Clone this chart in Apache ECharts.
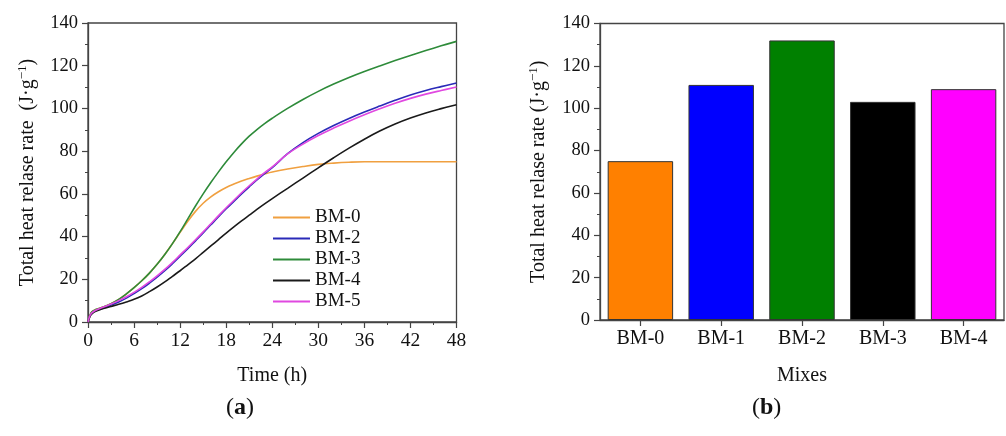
<!DOCTYPE html>
<html>
<head>
<meta charset="utf-8">
<script src="https://cdn.jsdelivr.net/npm/echarts@6/dist/echarts.min.js"></script>
<style>
html,body{margin:0;padding:0;background:#fff;}
#c{width:1006px;height:436px;}
</style>
</head>
<body>
<div id="c"></div>
<script>
// ---- Data (a): cumulative heat vs time ----
var timeH = [0, 0.25, 0.5, 1, 2, 3, 4, 5, 6, 7, 8, 9, 10, 11, 12, 13, 14, 15, 16, 17, 18, 19, 20, 21, 22, 23, 24, 26, 28, 30, 32, 34, 36, 38, 40, 42, 44, 46, 48];
var bm0 = [0, 3, 4.8, 5.8, 7, 8.6, 10.6, 13.2, 16.1, 19.3, 22.9, 27, 31.6, 36.7, 42, 47.2, 51.8, 55.6, 58.6, 61, 63, 64.6, 66, 67.2, 68.3, 69.3, 70.2, 71.6, 72.8, 73.8, 74.4, 74.8, 75, 75, 75, 75, 75, 75, 75];
var bm2 = [0, 2.8, 4, 5.2, 6.6, 7.9, 9.4, 11.2, 13.3, 15.6, 18.2, 21, 24, 27.3, 30.8, 34.3, 38, 41.7, 45.5, 49.3, 53, 56.5, 60, 63.3, 66.5, 69.5, 72.3, 78.8, 84, 88.3, 92, 95.3, 98.3, 101.1, 103.8, 106.3, 108.4, 110.2, 111.9];
var bm3 = [0, 3, 4.8, 5.8, 7, 8.6, 10.6, 13.2, 16.1, 19.3, 22.9, 27, 31.6, 36.7, 42.3, 48.3, 54.3, 60, 65.3, 70.3, 75, 79.4, 83.4, 87, 90.1, 92.9, 95.4, 100, 104.2, 108, 111.4, 114.5, 117.3, 119.9, 122.4, 124.8, 127.1, 129.3, 131.4];
var bm4 = [0, 2.5, 3.8, 5, 6.3, 7.3, 8.3, 9.4, 10.6, 12.2, 14.2, 16.4, 18.8, 21.4, 24, 26.8, 29.6, 32.6, 35.6, 38.6, 41.6, 44.5, 47.3, 50, 52.7, 55.3, 57.8, 62.6, 67.4, 72.2, 76.9, 81.4, 85.6, 89.4, 92.7, 95.5, 97.9, 99.9, 101.7];
var bm5 = [0, 3, 4.3, 5.5, 7, 8.4, 10, 11.8, 13.9, 16.2, 18.8, 21.6, 24.6, 27.9, 31.4, 34.9, 38.5, 42.2, 46, 49.8, 53.5, 57, 60.5, 63.8, 66.9, 69.9, 72.6, 78.7, 83.3, 87.3, 90.8, 94, 97, 99.8, 102.4, 104.7, 106.7, 108.4, 110];
var lineNames = ['BM-0', 'BM-2', 'BM-3', 'BM-4', 'BM-5'];
var lineColors = ['#F0A040', '#2A2AB8', '#2E8B3A', '#1A1A1A', '#E048E0'];
var lineValues = [bm0, bm2, bm3, bm4, bm5];

// ---- Data (b): total heat per mix ----
var mixes = ['BM-0', 'BM-1', 'BM-2', 'BM-3', 'BM-4'];
var mixTotals = [75, 111, 132, 103, 109];
var barColors = ['#FF8000', '#0000FF', '#008000', '#000000', '#FF00FF'];

// ---- Tick labels ----
var yTicks = [0, 20, 40, 60, 80, 100, 120, 140];
var xTicks = [0, 6, 12, 18, 24, 30, 36, 42, 48];

var FONT = 'Liberation Serif';
var AX = '#444';
var yName = 'Total heat relase rate  (J·g{sup|−1})';
var yName2 = 'Total heat relase rate (J·g{sup|−1})';
var nameRich = { sup: { fontSize: 13, fontFamily: FONT, color: '#111', verticalAlign: 'top', padding: [0, 0, 10, 0] } };

function pairs(t, v) { return t.map(function (x, i) { return [x, v[i]]; }); }

var series = lineValues.map(function (vals, i) {
  return {
    name: lineNames[i], type: 'line', xAxisIndex: 0, yAxisIndex: 0,
    data: pairs(timeH, vals), smooth: 0.4, symbol: 'none',
    lineStyle: { color: lineColors[i], width: 1.6 }, itemStyle: { color: lineColors[i] }
  };
});
series.push({
  type: 'bar', xAxisIndex: 1, yAxisIndex: 1, barCategoryGap: '19%',
  data: mixTotals.map(function (v, i) {
    return { value: v, itemStyle: { color: barColors[i] } };
  }),
  itemStyle: { borderColor: '#333', borderWidth: 1 }
});

function valueAxisCommon() {
  return {
    axisLine: { show: true, lineStyle: { color: AX, width: 1.3 } },
    axisTick: { show: true, inside: false, length: 6, lineStyle: { color: AX, width: 1.2 } },
    minorTick: { show: true, splitNumber: 2, length: 3, lineStyle: { color: AX, width: 1 } },
    splitLine: { show: false },
    axisLabel: { color: '#111', fontFamily: FONT, fontSize: 18.5, margin: 9 },
    nameTextStyle: { color: '#111', fontFamily: FONT, fontSize: 20, rich: nameRich }
  };
}

var xa0 = Object.assign(valueAxisCommon(), {
  type: 'value', gridIndex: 0, min: xTicks[0], max: xTicks[xTicks.length - 1], interval: 6,
  name: 'Time (h)', nameLocation: 'middle', nameGap: 44
});
xa0.axisLabel = Object.assign({}, xa0.axisLabel, { fontSize: 19.5 });
var ya0 = Object.assign(valueAxisCommon(), {
  type: 'value', gridIndex: 0, min: yTicks[0], max: yTicks[yTicks.length - 1], interval: 20,
  name: yName, nameLocation: 'middle', nameRotate: 90, nameGap: 49
});
ya0.axisLabel = Object.assign({}, ya0.axisLabel, { margin: 10 });
var xa1 = {
  type: 'category', gridIndex: 1, data: mixes, boundaryGap: true,
  axisLine: { show: true, lineStyle: { color: AX, width: 1.3 } },
  axisTick: { show: true, alignWithLabel: true, length: 6, lineStyle: { color: AX, width: 1.2 } },
  axisLabel: { color: '#111', fontFamily: FONT, fontSize: 20, margin: 9 },
  name: 'Mixes', nameLocation: 'middle', nameGap: 46,
  nameTextStyle: { color: '#111', fontFamily: FONT, fontSize: 20 }
};
var ya1 = Object.assign(valueAxisCommon(), {
  type: 'value', gridIndex: 1, min: yTicks[0], max: yTicks[yTicks.length - 1], interval: 20,
  name: yName2, nameLocation: 'middle', nameRotate: 90, nameGap: 50
});
ya1.axisLabel = Object.assign({}, ya1.axisLabel, { margin: 10 });

var option = {
  animation: false,
  backgroundColor: '#ffffff',
  grid: [
    { left: 88, top: 23, width: 368.5, height: 299, show: true, borderColor: AX, borderWidth: 1.3, backgroundColor: 'transparent' },
    { left: 600, top: 23.5, width: 404, height: 296.5, show: true, borderColor: AX, borderWidth: 1.3, backgroundColor: 'transparent' }
  ],
  legend: {
    data: lineNames, orient: 'vertical', left: 273, top: 207, padding: 0, itemGap: 0,
    icon: 'rect', itemWidth: 37, itemHeight: 2,
    textStyle: { color: '#111', fontFamily: FONT, fontSize: 19, lineHeight: 21 }
  },
  xAxis: [xa0, xa1],
  yAxis: [ya0, ya1],
  series: series,
  graphic: [
    { type: 'text', left: 226, top: 396, style: { text: '({b|a})', fontFamily: FONT, fontSize: 24, fill: '#111', rich: { b: { fontWeight: 'bold', fontFamily: FONT, fontSize: 24, fill: '#111' } } } },
    { type: 'text', left: 752, top: 396, style: { text: '({b|b})', fontFamily: FONT, fontSize: 24, fill: '#111', rich: { b: { fontWeight: 'bold', fontFamily: FONT, fontSize: 24, fill: '#111' } } } }
  ]
};

var chart = echarts.init(document.getElementById('c'), null, { renderer: 'canvas' });
chart.setOption(option);
</script>
</body>
</html>
